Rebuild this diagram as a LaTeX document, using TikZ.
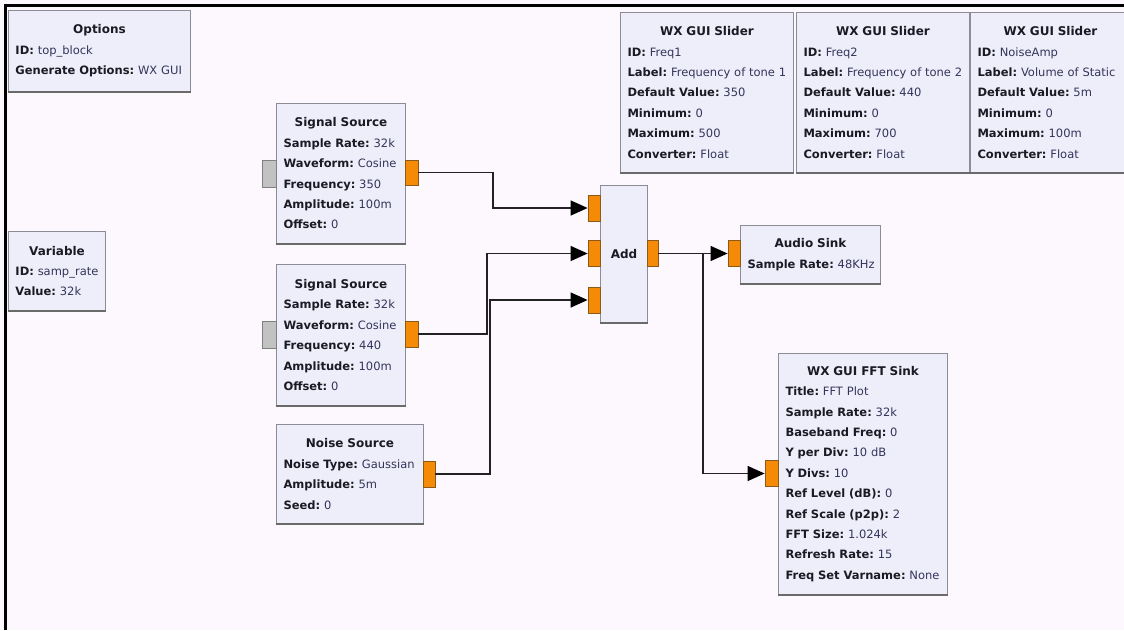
\documentclass[tikz,border=0pt]{standalone}
\usepackage{fontspec}
\setmainfont{DejaVu Sans}
\usetikzlibrary{arrows.meta,calc}
\setlength{\parindent}{0pt}
\setlength{\parskip}{0pt}
\frenchspacing
\definecolor{bgc}{HTML}{FDF8FD}
\definecolor{blockfill}{HTML}{EEEEFA}
\definecolor{blockedge}{HTML}{8C8C96}
\definecolor{shadowc}{HTML}{6A6A6A}
\definecolor{portorange}{HTML}{F58A07}
\definecolor{portedge}{HTML}{8A5A1A}
\definecolor{portgray}{HTML}{C2C2C2}
\definecolor{portgrayedge}{HTML}{808080}
\definecolor{keyc}{HTML}{1A1A24}
\definecolor{valc}{HTML}{34345A}
\definecolor{wirec}{HTML}{222222}
\newcommand{\kvline}[2]{\mbox{\textbf{#1:} \textcolor{valc}{#2}}}
\newcommand{\blocktitle}[1]{{\centering\fontsize{12}{20.4}\selectfont\bfseries #1\par}}
\tikzset{
  block/.style={draw=blockedge, line width=1pt, fill=blockfill, anchor=north west,
    inner sep=0pt, align=left, font=\fontsize{11.5}{20.4}\selectfont\frenchspacing, text=keyc},
  oport/.style={draw=portedge, fill=portorange, line width=0.8pt, minimum width=12pt,
    minimum height=26pt, inner sep=0pt},
  gport/.style={draw=portgrayedge, fill=portgray, line width=0.8pt, minimum width=14pt,
    minimum height=27pt, inner sep=0pt},
  wire/.style={draw=wirec, line width=1.3pt},
  arrowwire/.style={wire, -{Triangle[length=17pt,width=15pt,fill=black,color=black]}},
  shadowline/.style={draw=shadowc, line width=2pt},
  frameline/.style={draw=black, line width=3pt}
}
\begin{document}
\begin{tikzpicture}[x=1pt,y=-1pt]
\useasboundingbox (0,0) rectangle (1124,630);
\fill[bgc] (0,0) rectangle (1124,630);

% blocks
\node[block, minimum width=182pt, minimum height=81pt, text width=168pt] (opt) at (8,10)
  {\blocktitle{Options}\kvline{ID}{top\_block}\\\kvline{Generate Options}{WX GUI}};
\node[block, minimum width=97pt, minimum height=79pt, text width=83pt] (var) at (8,231)
  {\blocktitle{Variable}\kvline{ID}{samp\_rate}\\\kvline{Value}{32k}};
\node[block, minimum width=129pt, minimum height=140pt, text width=115pt] (ss1) at (276,103)
  {\blocktitle{Signal Source}\kvline{Sample Rate}{32k}\\\kvline{Waveform}{Cosine}\\\kvline{Frequency}{350}\\\kvline{Amplitude}{100m}\\\kvline{Offset}{0}};
\node[block, minimum width=129pt, minimum height=141pt, text width=115pt] (ss2) at (276,264)
  {\blocktitle{Signal Source}\kvline{Sample Rate}{32k}\\\kvline{Waveform}{Cosine}\\\kvline{Frequency}{440}\\\kvline{Amplitude}{100m}\\\kvline{Offset}{0}};
\node[block, minimum width=147pt, minimum height=99pt, text width=133pt] (noise) at (276,424)
  {\blocktitle{Noise Source}\kvline{Noise Type}{Gaussian}\\\kvline{Amplitude}{5m}\\\kvline{Seed}{0}};
\node[block, minimum width=47pt, minimum height=137pt, align=center, font=\fontsize{12}{14}\selectfont\bfseries] (add) at (600,185) {Add};
\node[block, minimum width=140pt, minimum height=58pt, text width=126pt] (audio) at (740,225)
  {\blocktitle{Audio Sink}\kvline{Sample Rate}{48KHz}};
\node[block, minimum width=169pt, minimum height=241pt, text width=155pt] (fft) at (778,353)
  {\blocktitle{WX GUI FFT Sink}\kvline{Title}{FFT Plot}\\\kvline{Sample Rate}{32k}\\\kvline{Baseband Freq}{0}\\\kvline{Y per Div}{10 dB}\\\kvline{Y Divs}{10}\\\kvline{Ref Level (dB)}{0}\\\kvline{Ref Scale (p2p)}{2}\\\kvline{FFT Size}{1.024k}\\\kvline{Refresh Rate}{15}\\\kvline{Freq Set Varname}{None}};
\node[block, minimum width=173pt, minimum height=160pt, text width=159pt] (sl1) at (620,12)
  {\blocktitle{WX GUI Slider}\kvline{ID}{Freq1}\\\kvline{Label}{Frequency of tone 1}\\\kvline{Default Value}{350}\\\kvline{Minimum}{0}\\\kvline{Maximum}{500}\\\kvline{Converter}{Float}};
\node[block, minimum width=173pt, minimum height=160pt, text width=159pt] (sl2) at (796,12)
  {\blocktitle{WX GUI Slider}\kvline{ID}{Freq2}\\\kvline{Label}{Frequency of tone 2}\\\kvline{Default Value}{440}\\\kvline{Minimum}{0}\\\kvline{Maximum}{700}\\\kvline{Converter}{Float}};
\node[block, minimum width=160pt, minimum height=160pt, text width=146pt] (sl3) at (970,12)
  {\blocktitle{WX GUI Slider}\kvline{ID}{NoiseAmp}\\\kvline{Label}{Volume of Static}\\\kvline{Default Value}{5m}\\\kvline{Minimum}{0}\\\kvline{Maximum}{100m}\\\kvline{Converter}{Float}};

\foreach \n in {opt,var,ss1,ss2,noise,add,audio,fft,sl1,sl2,sl3}
  \draw[shadowline] (\n.south west) -- (\n.south east);

% ports
\node[gport] (ss1g) at (269,173.5) {};
\node[oport, minimum width=13pt, minimum height=25pt] (ss1o) at (411.5,172.5) {};
\node[gport] (ss2g) at (269,334.5) {};
\node[oport, minimum width=13pt] (ss2o) at (411.5,334) {};
\node[oport] (noiseo) at (429,474) {};
\node[oport] (addi1) at (594,208) {};
\node[oport] (addi2) at (594,253.5) {};
\node[oport] (addi3) at (594,300) {};
\node[oport, minimum width=11pt] (addo) at (652.5,253.5) {};
\node[oport] (audioi) at (734,253.5) {};
\node[oport, minimum width=13pt] (ffti) at (771.5,473.5) {};

% junction columns
\coordinate (j1) at (493,0);
\coordinate (j2) at (487,0);
\coordinate (j2b) at (490,0);
\coordinate (j3) at (703,253.5);

% connectors
\draw[arrowwire] (ss1o.east) -| (j1 |- addi1.west) -- (addi1.west);
\draw[arrowwire] (ss2o.east) -| (j2 |- addi2.west) -- (addi2.west);
\draw[arrowwire] (noiseo.east) -| (j2b |- addi3.west) -- (addi3.west);
\draw[arrowwire] (addo.east) -- (audioi.west);
\draw[arrowwire] (j3) |- (ffti.west);

% frame
\draw[frameline] (5,630) -- (5,5) -- (1124,5);
\end{tikzpicture}
\end{document}
